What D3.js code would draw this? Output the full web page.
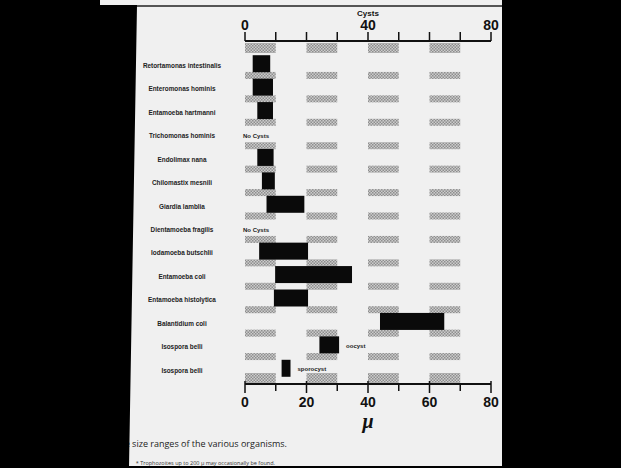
<!DOCTYPE html>
<html>
<head>
<meta charset="utf-8">
<script src="https://cdn.jsdelivr.net/npm/d3@7"></script>
<style>
  body { margin: 0; background: #000; }
  svg { display: block; }
</style>
</head>
<body>
<div id="chart"></div>
<script>
// organisms, top to bottom
const organisms = ["Retortamonas intestinalis", "Enteromonas hominis", "Entamoeba hartmanni",
    "Trichomonas hominis", "Endolimax nana", "Chilomastix mesnili", "Giardia lamblia",
    "Dientamoeba fragilis", "Iodamoeba butschlii", "Entamoeba coli", "Entamoeba histolytica",
    "Balantidium coli", "Isospora belli", "Isospora belli"];
// cyst size range in microns (null = no cysts)
const cystMin = [2.5, 2.5, 4, null, 4, 5.5, 7, null, 4.6, 9.8, 9.4, 43.9, 24.2, 11.9];
const cystMax = [8.2, 9.1, 9.1, null, 9.3, 9.7, 19.3, null, 20.5, 34.8, 20.5, 64.8, 30.6, 14.8];
const notes = ["", "", "", "No Cysts", "", "", "", "No Cysts", "", "", "", "", "oocyst", "sporocyst"];

const topTickLabels = [0, 40, 80];
const bottomTickLabels = [0, 20, 40, 60, 80];
const minorTicks = [0, 10, 20, 30, 40, 50, 60, 70, 80];
const shadeRanges = [[0, 10], [20, 30], [40, 50], [60, 70]];

const width = 621, height = 468;
const topAxisY = 41, bottomAxisY = 384;

const svg = d3.select("#chart").append("svg")
    .attr("width", width)
    .attr("height", height)
    .attr("font-family", "'Liberation Sans', Arial, sans-serif");

// stipple pattern for the grey bands
const pat = svg.append("defs").append("pattern")
    .attr("id", "stip")
    .attr("width", 3).attr("height", 3)
    .attr("patternUnits", "userSpaceOnUse");
pat.append("rect").attr("width", 3).attr("height", 3).attr("fill", "#cccccc");
pat.append("rect").attr("width", 1.5).attr("height", 1.5).attr("fill", "#8e8e8e");
pat.append("rect").attr("x", 1.5).attr("y", 1.5).attr("width", 1.5).attr("height", 1.5).attr("fill", "#8e8e8e");

// page
svg.append("rect").attr("width", width).attr("height", height).attr("fill", "#f0f0f0");

const x = d3.scaleLinear().domain([0, 80]).range([245, 491]);
const y = d3.scaleBand().domain(d3.range(organisms.length)).range([52, 380]);

// grey bands on row boundaries
const boundaries = d3.range(organisms.length + 1);
const bandRows = svg.append("g").selectAll("g")
    .data(boundaries)
    .join("g");
bandRows.selectAll("rect")
    .data(i => shadeRanges.map(r => ({ i, r })))
    .join("rect")
    .attr("x", d => x(d.r[0]))
    .attr("width", d => x(d.r[1]) - x(d.r[0]))
    .attr("y", d => {
        if (d.i === 0) return topAxisY + 2;
        if (d.i === organisms.length) return bottomAxisY - 11;
        return 52 + d.i * y.step() - 3.5;
    })
    .attr("height", d => (d.i === 0 || d.i === organisms.length) ? 10 : 7)
    .attr("fill", "url(#stip)");

// top axis
const topAxis = svg.append("g");
topAxis.append("line")
    .attr("x1", x(0)).attr("x2", x(80))
    .attr("y1", topAxisY).attr("y2", topAxisY)
    .attr("stroke", "#111").attr("stroke-width", 2);
topAxis.selectAll(".tk")
    .data(minorTicks)
    .join("line")
    .attr("x1", d => x(d)).attr("x2", d => x(d))
    .attr("y1", topAxisY).attr("y2", topAxisY - 9)
    .attr("stroke", "#111").attr("stroke-width", 1.5);
topAxis.selectAll("text")
    .data(topTickLabels)
    .join("text")
    .attr("x", d => x(d))
    .attr("y", 30)
    .attr("text-anchor", "middle")
    .attr("font-size", 14)
    .attr("font-weight", "bold")
    .attr("fill", "#111")
    .text(d => d);
svg.append("text")
    .attr("x", x(40)).attr("y", 16)
    .attr("text-anchor", "middle")
    .attr("font-size", 8)
    .attr("font-weight", "bold")
    .attr("fill", "#111")
    .text("Cysts");

// bottom axis
const botAxis = svg.append("g");
botAxis.append("line")
    .attr("x1", x(0)).attr("x2", x(80))
    .attr("y1", bottomAxisY).attr("y2", bottomAxisY)
    .attr("stroke", "#111").attr("stroke-width", 2);
botAxis.selectAll(".tk")
    .data(minorTicks)
    .join("line")
    .attr("x1", d => x(d)).attr("x2", d => x(d))
    .attr("y1", d => d % 20 === 0 ? bottomAxisY - 3 : bottomAxisY)
    .attr("y2", d => d % 20 === 0 ? bottomAxisY + 9 : bottomAxisY + 7)
    .attr("stroke", "#111").attr("stroke-width", 1.5);
botAxis.selectAll("text")
    .data(bottomTickLabels)
    .join("text")
    .attr("x", d => x(d))
    .attr("y", 407)
    .attr("text-anchor", "middle")
    .attr("font-size", 14)
    .attr("font-weight", "bold")
    .attr("fill", "#111")
    .text(d => d);
svg.append("text")
    .attr("x", x(40)).attr("y", 428)
    .attr("text-anchor", "middle")
    .attr("font-family", "'Liberation Serif', serif")
    .attr("font-style", "italic")
    .attr("font-weight", "bold")
    .attr("font-size", 20)
    .attr("fill", "#111")
    .text("\u03bc");

// row labels
svg.append("g").selectAll("text")
    .data(organisms)
    .join("text")
    .attr("x", 182)
    .attr("y", (d, i) => y(i) + y.bandwidth() / 2 + 2)
    .attr("dy", "0.35em")
    .attr("text-anchor", "middle")
    .attr("font-size", 6.4)
    .attr("font-weight", "bold")
    .attr("fill", "#222")
    .text(d => d);

// cyst size bars
const rows = organisms.map((name, i) => ({ i, lo: cystMin[i], hi: cystMax[i], note: notes[i] }));
svg.append("g").selectAll("rect")
    .data(rows.filter(d => d.lo !== null))
    .join("rect")
    .attr("x", d => x(d.lo))
    .attr("width", d => x(d.hi) - x(d.lo))
    .attr("y", d => y(d.i) + y.bandwidth() / 2 - 8.5)
    .attr("height", 17)
    .attr("fill", "#0a0a0a");

// notes
svg.append("g").selectAll("text")
    .data(rows.filter(d => d.note))
    .join("text")
    .attr("x", d => d.lo === null ? x(0) - 2 : x(d.hi) + 7)
    .attr("y", d => y(d.i) + y.bandwidth() / 2 + (d.lo === null ? 2 : 1))
    .attr("dy", "0.35em")
    .attr("font-size", 6)
    .attr("font-weight", "bold")
    .attr("fill", "#222")
    .text(d => d.note);

// caption
svg.append("text")
    .attr("x", 287).attr("y", 447)
    .attr("text-anchor", "end")
    .attr("font-family", "'Open Sans', sans-serif")
    .attr("font-size", 9)
    .attr("fill", "#222")
    .text("Fig. 1. Approximate size ranges of the various organisms.");
svg.append("text")
    .attr("x", 275).attr("y", 465)
    .attr("text-anchor", "end")
    .attr("font-family", "'Open Sans', sans-serif")
    .attr("font-size", 5.5)
    .attr("fill", "#333")
    .text("* Trophozoites up to 200 \u03bc may occasionally be found.");

// scan borders
svg.append("line")
    .attr("x1", 135).attr("x2", 502)
    .attr("y1", 6).attr("y2", 6)
    .attr("stroke", "#555").attr("stroke-width", 2);
svg.append("polygon")
    .attr("points", "0,0 100,0 100,5 137,5 129,468 0,468")
    .attr("fill", "#000");
svg.append("rect").attr("x", 502).attr("y", 0).attr("width", 119).attr("height", height).attr("fill", "#000");
svg.append("rect").attr("x", 0).attr("y", 466).attr("width", width).attr("height", 2).attr("fill", "#000");
</script>
</body>
</html>
